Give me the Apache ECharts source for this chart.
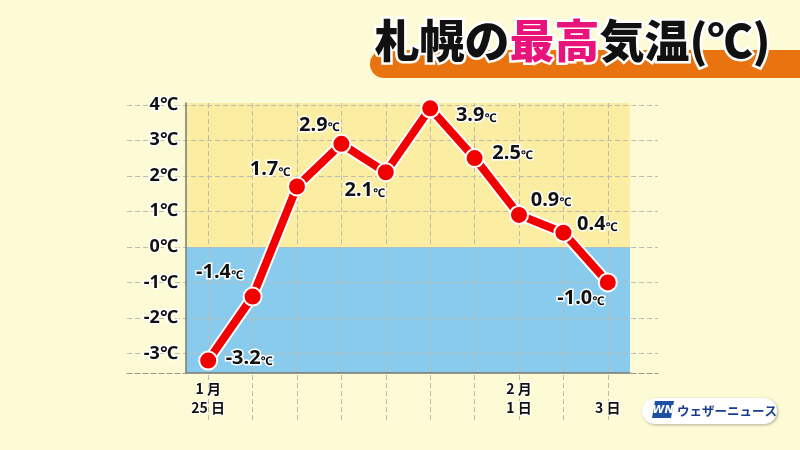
<!DOCTYPE html>
<html>
<head>
<meta charset="utf-8">
<script src="https://cdn.jsdelivr.net/npm/echarts@6/dist/echarts.min.js"></script>
<style>
html,body{margin:0;padding:0;background:#fdfad6;}
#c{width:800px;height:450px;}
</style>
</head>
<body>
<div id="c"></div>
<script>
// ---- data ----
const categories = ['1/25','1/26','1/27','1/28','1/29','1/30','1/31','2/1','2/2','2/3'];
const xTickLabels = ['1 月\n25 日','','','','','','','2 月\n1 日','','\n3 日'];
const highTemps = [-3.2, -1.4, 1.7, 2.9, 2.1, 3.9, 2.5, 0.9, 0.4, -1.0];
const yTickValues = [-3, -2, -1, 0, 1, 2, 3, 4];
const titleParts = ['札幌の', '最高', '気温(℃)'];
const logoText = 'ウェザーニュース';

// label offsets (style only)
const labelOffsets = [[41,-2],[-33,-24],[-27,-17],[-22,-19],[-21,18],[46,7],[38,-5],[32,-15],[34,-8],[-27,16]];

const xIdx = categories.map((c, i) => i);
const xLabelIdx = xIdx.filter(i => xTickLabels[i] !== '');
const points = highTemps.map((v, i) => [i, v]);

const chart = echarts.init(document.getElementById('c'));
const Y_MIN = -3.55, Y_MAX = 4.05;
const gridColor = '#bdbbae';
const fontNum = '"Noto Sans", "Noto Sans CJK JP", sans-serif';
const scribble = {
  symbol: 'rect', symbolSize: 1, color: 'rgba(255,255,255,0.4)',
  dashArrayX: [[0, 9, 7, 23]], dashArrayY: [2, 11], rotation: -0.55
};

const option = {
  backgroundColor: '#fdfad6',
  animation: false,
  aria: {enabled: true, decal: {show: true}, label: {enabled: false}},
  grid: [
    {left: 186, right: 170, top: 103, bottom: 77},
    {left: 127, right: 142, top: 103, bottom: 77},
    {left: 186, right: 170, top: 103, bottom: 30}
  ],
  xAxis: [
    {
      type: 'value', gridIndex: 0, min: -0.5, max: 9.5, z: 2.9,
      axisLine: {show: true, onZero: false, lineStyle: {color: '#7a7a72', width: 1.5}},
      axisTick: {show: false, customValues: xLabelIdx},
      splitLine: {show: false},
      axisLabel: {
        customValues: xLabelIdx,
        formatter: v => xTickLabels[Math.round(v)] || '',
        color: '#111', fontSize: 14, fontWeight: 'bold', lineHeight: 19,
        fontFamily: '"Noto Sans CJK JP", sans-serif',
        textBorderColor: '#fff', textBorderWidth: 2, margin: 6
      }
    },
    {
      type: 'value', gridIndex: 1, min: 0, max: 1, z: 2.9,
      axisLine: {show: true, onZero: false, lineStyle: {color: '#9a978a', width: 1, type: [5, 3]}},
      axisTick: {show: false}, axisLabel: {show: false}, splitLine: {show: false}
    },
    {
      type: 'value', gridIndex: 2, min: -0.5, max: 9.5, z: 2.9,
      axisLine: {show: false}, axisLabel: {show: false},
      axisTick: {show: false, customValues: xIdx},
      splitLine: {show: true, lineStyle: {color: gridColor, width: 1, type: [5, 3]}}
    }
  ],
  yAxis: [
    {
      type: 'value', gridIndex: 0, min: Y_MIN, max: Y_MAX, z: 2.9,
      axisLine: {show: true, onZero: false, lineStyle: {color: '#7a7a72', width: 1.5}},
      axisTick: {show: false, customValues: yTickValues},
      splitLine: {show: false},
      axisLabel: {
        customValues: yTickValues,
        formatter: v => v + '℃',
        color: '#111', fontSize: 18, fontWeight: 'bold',
        fontFamily: fontNum,
        textBorderColor: '#fff', textBorderWidth: 3, margin: 8
      }
    },
    {
      type: 'value', gridIndex: 1, min: Y_MIN, max: Y_MAX, z: 2.9,
      axisLine: {show: false}, axisLabel: {show: false},
      axisTick: {show: false, customValues: yTickValues},
      splitLine: {show: true, lineStyle: {color: gridColor, width: 1, type: [5, 3]}}
    },
    {
      type: 'value', gridIndex: 2, min: 0, max: 1, show: false
    }
  ],
  series: [
    {
      type: 'line', xAxisIndex: 0, yAxisIndex: 0, z: -1, silent: true,
      data: points, showSymbol: false, symbol: 'none',
      lineStyle: {opacity: 0},
      markArea: {
        silent: true, z: -1,
        data: [
          [{yAxis: 0, itemStyle: {color: '#fbeea2', decal: scribble}}, {yAxis: Y_MAX}],
          [{yAxis: Y_MIN, itemStyle: {color: '#88cbec', decal: scribble}}, {yAxis: 0}]
        ]
      }
    },
    {
      type: 'line', xAxisIndex: 0, yAxisIndex: 0, z: 3, silent: true,
      data: points, symbol: 'none',
      lineStyle: {color: '#ffffff', width: 12}
    },
    {
      type: 'line', xAxisIndex: 0, yAxisIndex: 0, z: 4,
      data: points.map((p, i) => ({
        value: p,
        label: {offset: labelOffsets[i]}
      })),
      symbol: 'circle', symbolSize: 18,
      itemStyle: {color: '#f20000', borderColor: '#ffffff', borderWidth: 2},
      lineStyle: {color: '#f20000', width: 8},
      label: {
        show: true, position: 'inside', align: 'center', verticalAlign: 'middle',
        formatter: p => '{n|' + p.value[1].toFixed(1) + '}{c|℃}',
        rich: {
          n: {fontSize: 20, fontWeight: 'bold', color: '#111', fontFamily: fontNum,
              textBorderColor: '#fff', textBorderWidth: 3, verticalAlign: 'bottom'},
          c: {fontSize: 12, fontWeight: 'bold', color: '#111', fontFamily: fontNum,
              textBorderColor: '#fff', textBorderWidth: 3, verticalAlign: 'bottom', padding: [0,0,1,0]}
        }
      }
    }
  ],
  graphic: [
    {
      type: 'rect', z: 10,
      shape: {x: 370, y: 50, width: 440, height: 28, r: [14, 0, 0, 14]},
      style: {fill: '#e8730f'}
    },
    {
      type: 'text', z: 11, left: 372, top: 16,
      style: {
        text: '{a|' + titleParts[0] + '}{b|' + titleParts[1] + '}{a|' + titleParts[2] + '}',
        rich: {
          a: {fontSize: 45, fontWeight: 900, fontFamily: '"Noto Sans CJK JP", sans-serif',
              fill: '#111', stroke: '#fff', lineWidth: 5},
          b: {fontSize: 45, fontWeight: 900, fontFamily: '"Noto Sans CJK JP", sans-serif',
              fill: '#e8147c', stroke: '#fff', lineWidth: 5}
        }
      }
    },
    {
      type: 'rect', z: 10,
      shape: {x: 642, y: 398, width: 135, height: 26, r: 13},
      style: {fill: '#ffffff', shadowBlur: 3, shadowColor: 'rgba(0,0,0,0.3)', shadowOffsetX: 1, shadowOffsetY: 1}
    },
    {
      type: 'polygon', z: 11,
      shape: {points: [[655, 401], [674, 401], [671, 418], [652, 418]]},
      style: {fill: '#1d4fa3'}
    },
    {
      type: 'text', z: 12, x: 663, y: 410,
      style: {text: 'WN', fill: '#fff', fontSize: 11, fontWeight: 'bold', fontStyle: 'italic',
              fontFamily: '"DejaVu Sans", sans-serif', align: 'center', verticalAlign: 'middle'}
    },
    {
      type: 'text', z: 11, x: 677, y: 411,
      style: {text: logoText, fill: '#1a3d8c', fontSize: 12.5, fontWeight: 'bold',
              fontFamily: '"Noto Sans CJK JP", sans-serif', verticalAlign: 'middle'}
    }
  ]
};
chart.setOption(option);
</script>
</body>
</html>
